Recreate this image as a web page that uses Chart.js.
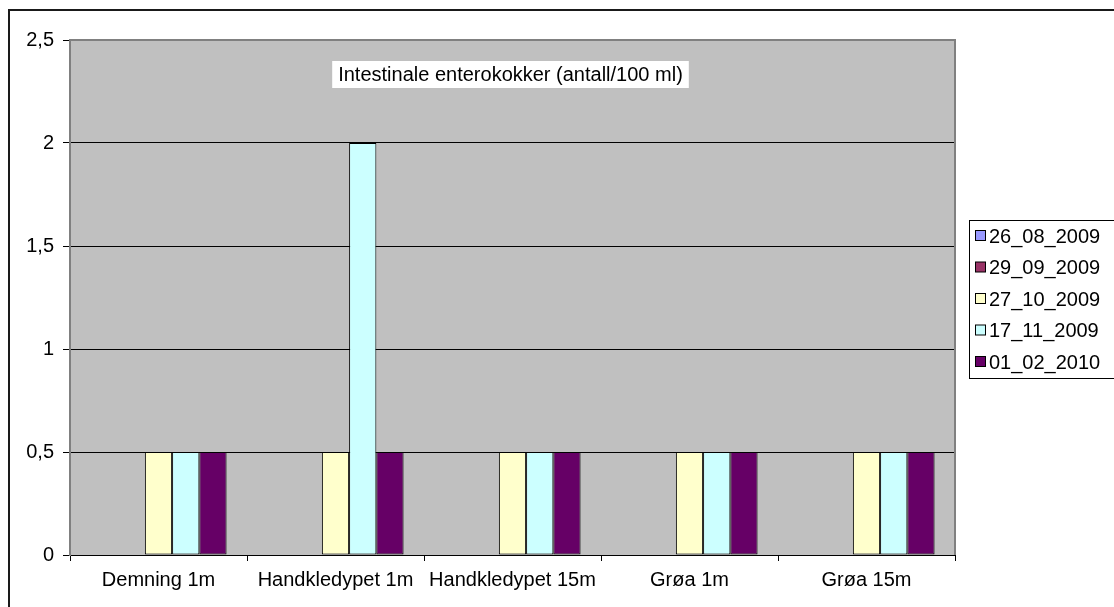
<!DOCTYPE html>
<html>
<head>
<meta charset="utf-8">
<script src="https://cdn.jsdelivr.net/npm/chart.js@4.4.1/dist/chart.umd.js"></script>
<style>
  html, body { margin: 0; padding: 0; background: #fff; }
  #wrap { width: 1114px; height: 607px; position: relative; }
</style>
</head>
<body>
<div id="wrap"><canvas id="chart"></canvas></div>
<script>
const categories = ['Demning 1m', 'Handkledypet 1m', 'Handkledypet 15m', 'Grøa 1m', 'Grøa 15m'];
const seriesNames = ['26_08_2009', '29_09_2009', '27_10_2009', '17_11_2009', '01_02_2010'];
const colors = ['#9999FF', '#993366', '#FFFFCC', '#CCFFFF', '#660066'];
const s26_08_2009 = [null, null, null, null, null];
const s29_09_2009 = [null, null, null, null, null];
const s27_10_2009 = [0.5, 0.5, 0.5, 0.5, 0.5];
const s17_11_2009 = [0.5, 2, 0.5, 0.5, 0.5];
const s01_02_2010 = [0.5, 0.5, 0.5, 0.5, 0.5];
const yTicks = [0, 0.5, 1, 1.5, 2, 2.5];
const chartTitle = 'Intestinale enterokokker (antall/100 ml)';

const FONT = 'Arial, "Liberation Sans", sans-serif';
const seriesValues = [s26_08_2009, s29_09_2009, s27_10_2009, s17_11_2009, s01_02_2010];

// gray plot area, frame, title box and legend (Excel look)
const excelLook = {
  id: 'excelLook',
  beforeDraw(chart) {
    const { ctx, chartArea: a } = chart;
    ctx.save();
    ctx.fillStyle = '#fff';
    ctx.fillRect(0, 0, chart.width, chart.height);
    ctx.strokeStyle = '#1a1a1a';
    ctx.lineWidth = 2;
    ctx.strokeRect(9, 10, chart.width + 20, chart.height + 20);
    ctx.fillStyle = '#C0C0C0';
    ctx.fillRect(a.left, a.top, a.right - a.left, a.bottom - a.top);
    ctx.restore();
  },
  afterDraw(chart) {
    const { ctx, chartArea: a } = chart;
    ctx.save();
    // top/right plot frame
    ctx.strokeStyle = '#808080';
    ctx.lineWidth = 2;
    ctx.beginPath();
    ctx.moveTo(a.left, a.top);
    ctx.lineTo(a.right, a.top);
    ctx.lineTo(a.right, a.bottom);
    ctx.stroke();

    // title inside plot
    ctx.font = '20px ' + FONT;
    const tw = ctx.measureText(chartTitle).width;
    const cx = (a.left + a.right) / 2 - 2;
    ctx.fillStyle = '#fff';
    ctx.fillRect(cx - tw / 2 - 6, 61, tw + 12, 27);
    ctx.fillStyle = '#000';
    ctx.textAlign = 'center';
    ctx.textBaseline = 'middle';
    ctx.fillText(chartTitle, cx, 75);

    // legend
    ctx.strokeStyle = '#000';
    ctx.lineWidth = 1;
    ctx.strokeRect(969.5, 220.5, 200, 158);
    ctx.textAlign = 'left';
    ctx.font = '20px ' + FONT;
    chart.data.datasets.forEach((ds, i) => {
      const y = 236 + i * 31.5;
      ctx.fillStyle = ds.backgroundColor;
      ctx.fillRect(975.5, y - 5.5, 10, 10);
      ctx.strokeRect(975.5, y - 5.5, 10, 10);
      ctx.fillStyle = '#000';
      ctx.fillText(ds.label, 989, y + 1);
    });
    ctx.restore();
  }
};

const datasets = seriesNames.map((name, i) => ({
  label: name,
  data: seriesValues[i],
  backgroundColor: colors[i],
  borderColor: '#000',
  borderWidth: 1,
  borderSkipped: false,
  categoryPercentage: 5 / 6.5,
  barPercentage: 1
}));

new Chart(document.getElementById('chart'), {
  type: 'bar',
  data: { labels: categories, datasets },
  options: {
    responsive: true,
    maintainAspectRatio: false,
    animation: false,
    layout: { padding: { left: 8, top: 40, right: 159, bottom: 0 } },
    plugins: { legend: { display: false }, tooltip: { enabled: false } },
    scales: {
      x: {
        offset: true,
        grid: { offset: true, drawOnChartArea: false, drawTicks: true, tickLength: 6, color: '#000' },
        border: { color: '#000', width: 1 },
        ticks: { color: '#000', font: { family: FONT, size: 20 }, padding: 7, maxRotation: 0, autoSkip: false },
        afterFit(scale) { scale.height = 52; }
      },
      y: {
        min: yTicks[0],
        max: yTicks[yTicks.length - 1],
        afterBuildTicks(scale) { scale.ticks = yTicks.map(v => ({ value: v })); },
        grid: { color: '#000', tickLength: 7, drawTicks: true },
        border: { color: '#808080', width: 2 },
        ticks: {
          color: '#000',
          font: { family: FONT, size: 20 },
          padding: 9,
          callback: v => String(v).replace('.', ',')
        },
        afterFit(scale) { scale.width = 62; }
      }
    }
  },
  plugins: [excelLook]
});
</script>
</body>
</html>
